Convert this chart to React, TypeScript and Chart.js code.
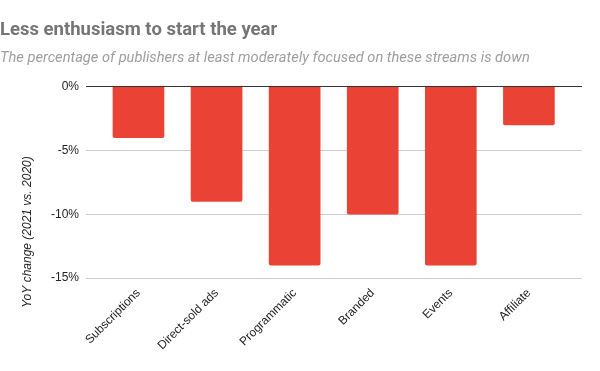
import React, { useEffect, useRef } from "react";
import { Chart, registerables } from "chart.js";

Chart.register(...registerables);

const categories = ["Subscriptions", "Direct-sold ads", "Programmatic", "Branded", "Events", "Affiliate"];
const yoyChange = [-4, -9, -14, -10, -14, -3];
const yTickValues = [0, -5, -10, -15];

const titleText = "Less enthusiasm to start the year";
const subtitleText = "The percentage of publishers at least moderately focused on these streams is down";
const yAxisTitle = "YoY change (2021 vs. 2020)";

const yTitlePlugin = {
  id: "yTitlePlugin",
  afterDraw(chart: any) {
    const ctx = chart.ctx;
    ctx.save();
    ctx.translate(28, 232);
    ctx.rotate(-Math.PI / 2);
    ctx.font = "italic 12px 'Liberation Sans', Arial, sans-serif";
    ctx.fillStyle = "#222222";
    ctx.textAlign = "center";
    ctx.textBaseline = "middle";
    ctx.fillText(yAxisTitle, 0, 0);
    ctx.restore();
  },
};

export default function App() {
  const ref = useRef<HTMLCanvasElement | null>(null);

  useEffect(() => {
    document.body.style.margin = "0";
    const canvas = ref.current;
    if (!canvas) return;
    const chart = new Chart(canvas, {
      type: "bar",
      data: {
        datasets: [
          {
            data: categories.map((_, i) => ({ x: i, y: yoyChange[i] })),
            backgroundColor: "#EA4335",
            borderWidth: 0,
            borderRadius: 2,
            barThickness: 51,
          },
        ],
      },
      options: {
        animation: false,
        responsive: false,
        layout: { padding: { left: 0, right: 18, top: 0, bottom: 0 } },
        plugins: {
          legend: { display: false },
          tooltip: { enabled: false },
          title: {
            display: true,
            text: titleText,
            align: "start",
            color: "#757575",
            font: { family: "Roboto, 'Liberation Sans', Arial", size: 18.5, weight: "bold" },
            padding: { top: 19, bottom: 8 },
          },
          subtitle: {
            display: true,
            text: subtitleText,
            align: "start",
            color: "#9e9e9e",
            font: { family: "Roboto, 'Liberation Sans', Arial", size: 14.67, style: "italic" },
            padding: { top: 0, bottom: 20 },
          },
        },
        scales: {
          x: {
            type: "linear",
            offset: false,
            min: -0.672,
            max: 5.68,
            grid: { display: false },
            border: { display: false },
            afterBuildTicks: (scale: any) => {
              scale.ticks = categories.map((_, i) => ({ value: i }));
            },
            afterFit: (scale: any) => {
              scale.height = 93;
            },
            ticks: {
              autoSkip: false,
              minRotation: 45,
              maxRotation: 45,
              padding: 0,
              color: "#222222",
              font: { family: "'Liberation Sans', Arial", size: 12 },
              callback: (v: any) => categories[Math.round(Number(v))] ?? "",
            },
          },
          y: {
            min: -15,
            max: 0,
            afterBuildTicks: (scale: any) => {
              scale.ticks = yTickValues.map((v) => ({ value: v }));
            },
            afterFit: (scale: any) => {
              scale.width = 86;
            },
            border: { display: false },
            grid: {
              drawTicks: false,
              color: (c: any) => (c.tick && c.tick.value === 0 ? "#333333" : "#cccccc"),
              lineWidth: 1,
            },
            ticks: {
              padding: 7,
              color: "#222222",
              font: { family: "'Liberation Sans', Arial", size: 12 },
              callback: (v: any) => `${v}%`,
            },
          },
        },
      },
      plugins: [yTitlePlugin],
    } as any);
    return () => chart.destroy();
  }, []);

  return (
    <div style={{ position: "fixed", left: 0, top: 0, width: 600, height: 371, background: "#fff" }}>
      <canvas ref={ref} width={600} height={371} style={{ width: 600, height: 371 }} />
    </div>
  );
}
